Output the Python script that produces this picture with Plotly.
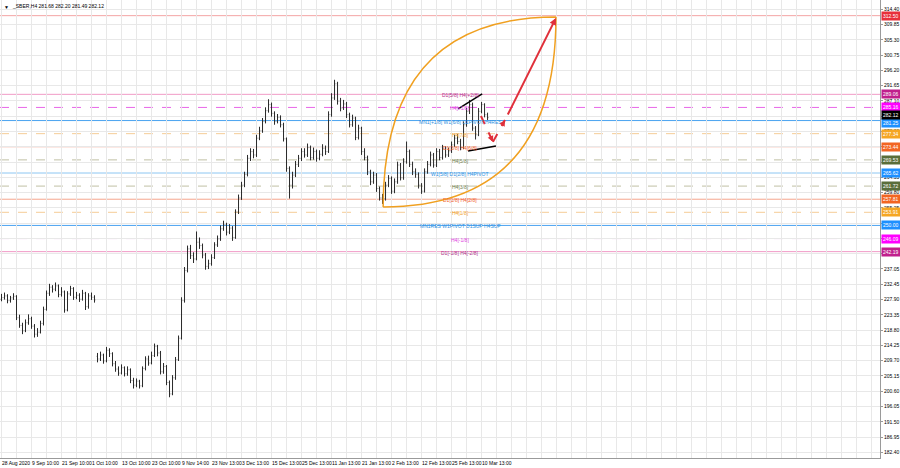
import plotly.graph_objects as go

# ---------------- data ----------------
closes = [228.5, 229.0, 227.6, 228.4, 228.9, 222.5, 220.2, 218.6, 221.0, 222.2,
          220.0, 217.6, 218.2, 220.8, 225.0, 229.8, 231.6, 231.0, 232.0, 229.4,
          230.2, 224.8, 229.6, 231.2, 228.6, 229.2, 228.0, 229.8, 225.8, 229.0,
          228.6, 227.8,
          210.2, 211.4, 209.6, 212.8, 211.8, 208.8, 207.2, 206.0, 207.6, 205.8,
          207.0, 203.8, 202.4, 203.6, 202.2, 207.4, 210.2, 209.0, 211.2, 214.0,
          212.0, 206.4, 208.0, 203.2, 199.8, 204.6, 210.0, 216.4, 227.6,
          236.6, 243.0, 241.0, 240.0, 245.0, 244.0, 241.2, 237.8, 238.6, 240.4,
          244.2, 246.0, 249.0, 250.2, 248.0, 249.2, 246.4, 254.0, 258.2, 262.0,
          265.2, 270.0, 272.0, 271.0, 276.0, 278.2, 281.0, 284.2, 286.0, 283.4,
          281.0, 282.2, 280.0, 275.8, 267.0, 262.0, 265.0, 268.2, 270.0, 272.0,
          271.0, 273.2, 270.2, 272.0, 270.0, 271.2, 273.0, 272.0, 283.0, 288.0,
          292.2, 287.0, 285.0, 286.2, 283.0, 280.0, 282.0, 276.2, 279.0, 272.0,
          270.2, 266.0, 263.0, 265.0, 261.0, 258.2, 258.0, 262.0, 264.0, 260.2,
          263.0, 268.0, 264.2, 269.0, 272.0, 268.2, 266.0, 265.2, 262.0, 260.2,
          266.0, 268.2, 271.0, 268.0, 272.0, 270.2, 273.0, 271.0, 272.2, 274.0,
          276.0, 275.0, 273.2, 280.0, 284.0, 286.0, 279.0, 277.0, 284.0, 286.0,
          283.0, 282.12]
opens = [228.0, 228.5, 229.0, 227.6, 228.4, 228.9, 222.5, 220.2, 218.6, 221.0,
         222.2, 220.0, 217.6, 218.2, 220.8, 225.0, 229.8, 231.6, 231.0, 232.0,
         229.4, 230.2, 224.8, 229.6, 231.2, 228.6, 229.2, 228.0, 229.8, 225.8,
         229.0, 228.6,
         211.0, 210.2, 211.4, 209.6, 212.8, 211.8, 208.8, 207.2, 206.0, 207.6,
         205.8, 207.0, 203.8, 202.4, 203.6, 202.2, 207.4, 210.2, 209.0, 211.2,
         214.0, 212.0, 206.4, 208.0, 203.2, 199.8, 204.6, 210.0, 216.4,
         227.6, 236.6, 243.0, 241.0, 240.0, 245.0, 244.0, 241.2, 237.8, 238.6,
         240.4, 244.2, 246.0, 249.0, 250.2, 248.0, 249.2, 246.4, 254.0, 258.2,
         262.0, 265.2, 270.0, 272.0, 271.0, 276.0, 278.2, 281.0, 284.2, 286.0,
         283.4, 281.0, 282.2, 280.0, 275.8, 267.0, 262.0, 265.0, 268.2, 270.0,
         272.0, 271.0, 273.2, 270.2, 272.0, 270.0, 271.2, 273.0, 272.0, 283.0,
         288.0, 292.2, 287.0, 285.0, 286.2, 283.0, 280.0, 282.0, 276.2, 279.0,
         272.0, 270.2, 266.0, 263.0, 265.0, 261.0, 258.2, 258.0, 262.0, 264.0,
         260.2, 263.0, 268.0, 264.2, 269.0, 272.0, 268.2, 266.0, 265.2, 262.0,
         260.2, 266.0, 268.2, 271.0, 268.0, 272.0, 270.2, 273.0, 271.0, 272.2,
         274.0, 276.0, 275.0, 273.2, 280.0, 284.0, 286.0, 279.0, 277.0, 284.0,
         286.0, 283.0]
highs = [229.6, 230.0, 229.5, 229.0, 229.8, 229.2, 223.4, 221.0, 222.0, 223.5,
         222.8, 220.6, 219.4, 221.6, 225.8, 230.6, 232.6, 232.2, 233.0, 232.4,
         231.6, 230.6, 230.4, 232.0, 231.6, 230.2, 229.8, 230.8, 230.2, 229.8,
         230.0, 229.2,
         212.0, 212.4, 211.8, 213.8, 213.4, 212.2, 209.6, 208.0, 208.6, 208.0,
         208.0, 207.4, 204.6, 204.4, 204.0, 208.0, 211.0, 211.2, 212.4, 214.8,
         214.4, 212.6, 209.0, 208.4, 203.8, 205.4, 210.8, 217.2, 228.6,
         237.6, 244.0, 244.2, 242.0, 248.2, 246.4, 244.6, 241.8, 239.8, 241.4,
         245.0, 247.0, 250.0, 251.4, 250.8, 250.4, 249.8, 254.8, 259.2, 263.0,
         266.0, 271.0, 273.0, 272.8, 277.0, 279.4, 282.0, 285.2, 287.6, 286.6,
         284.0, 283.2, 282.8, 280.6, 276.2, 267.6, 266.0, 269.2, 271.0, 273.0,
         273.0, 274.4, 273.8, 273.2, 272.6, 272.4, 274.2, 273.8, 284.0, 289.4,
         293.4, 292.8, 288.0, 287.4, 286.8, 283.6, 283.0, 282.4, 280.0, 279.4,
         273.0, 270.8, 266.6, 266.0, 265.6, 261.6, 259.4, 263.0, 265.0, 264.6,
         264.0, 269.0, 268.6, 270.0, 275.0, 272.6, 269.0, 267.0, 265.8, 262.6,
         267.0, 269.2, 272.0, 271.6, 273.0, 272.8, 274.0, 273.6, 273.2, 275.0,
         277.0, 277.2, 275.8, 281.0, 285.0, 287.4, 286.6, 279.6, 285.0, 286.8,
         286.4, 283.6]
lows = [227.4, 227.9, 226.8, 227.0, 227.8, 221.8, 219.5, 217.6, 218.2, 220.4,
        219.2, 216.6, 216.8, 217.8, 220.2, 224.6, 229.0, 230.0, 230.4, 228.6,
        228.8, 224.0, 224.4, 229.0, 227.8, 228.0, 227.2, 227.6, 224.8, 225.2,
        227.8, 227.0,
        209.2, 209.6, 208.8, 209.2, 210.8, 208.0, 206.4, 205.2, 205.6, 205.0,
        205.2, 203.0, 201.4, 201.8, 201.4, 201.8, 206.8, 208.2, 208.6, 210.8,
        211.0, 205.6, 205.8, 202.4, 198.8, 199.4, 204.0, 209.6, 216.0,
        227.0, 236.0, 240.0, 238.8, 239.6, 243.0, 240.2, 236.8, 237.0, 238.0,
        240.0, 243.6, 245.4, 248.4, 247.0, 247.4, 245.4, 246.0, 253.4, 257.6,
        261.4, 264.6, 269.2, 270.0, 270.4, 275.4, 277.6, 280.4, 283.6, 282.4,
        280.0, 280.4, 279.2, 275.0, 266.0, 258.0, 261.0, 264.4, 267.4, 269.2,
        270.2, 270.4, 269.4, 269.6, 269.0, 269.4, 270.6, 271.0, 271.6, 282.4,
        287.4, 286.0, 284.0, 284.4, 282.0, 279.2, 279.4, 275.4, 275.6, 271.0,
        269.4, 265.0, 262.0, 262.4, 260.0, 257.4, 256.4, 257.4, 261.4, 259.4,
        259.6, 262.4, 263.4, 263.6, 268.4, 267.4, 265.0, 264.2, 261.0, 259.4,
        259.8, 265.4, 267.6, 267.2, 267.4, 269.4, 269.6, 270.2, 270.4, 271.6,
        273.4, 274.2, 272.4, 272.8, 279.4, 283.2, 278.2, 275.6, 276.6, 283.4,
        282.2, 281.4]

date_labels = ["28 Aug 2020", "9 Sep 10:00", "21 Sep 10:00", "1 Oct 10:00",
               "13 Oct 10:00", "23 Oct 10:00", "9 Nov 14:00", "23 Nov 13:00",
               "3 Dec 13:00", "15 Dec 13:00", "25 Dec 13:00", "11 Jan 13:00",
               "21 Jan 13:00", "2 Feb 13:00", "12 Feb 13:00", "25 Feb 13:00",
               "10 Mar 13:00"]
date_label_bars = [0, 10, 20, 30, 40, 50, 60, 70, 80, 90, 100, 110, 120, 130,
                   140, 150, 160]

price_ticks = [314.40, 309.85, 305.30, 300.75, 296.20, 291.65, 287.10, 282.55,
               278.00, 273.45, 268.90, 264.35, 259.80, 255.25, 250.70, 246.15,
               241.60, 237.05, 232.45, 227.90, 223.35, 218.80, 214.25, 209.70,
               205.15, 200.60, 196.05, 191.50, 186.95, 182.40]

level_prices = [312.50, 289.06, 285.16, 281.25, 277.34, 273.44, 269.53, 265.62,
                261.72, 257.81, 253.91, 250.00, 246.09, 242.19]
level_texts = ["", "D1[5/8] H4[+2/8]", "H4[+1/8]",
               "MN1[+1/8] W1[6/8] D1PIVOT H4RES", "H4[7/8]", "D1[3/8] H4[6/8]",
               "H4[5/8]", "W1[5/8] D1[2/8] H4PIVOT", "H4[3/8]", "D1[1/8] H4[2/8]",
               "H4[1/8]", "MN1RES W1PIVOT D1SUP H4SUP", "H4[-1/8]",
               "D1[-1/8] H4[-2/8]"]
level_line_colors = ["#f4a4a4", "#f19ac6", "#e866e8", "#4aa3f0", "#f5cc96",
                     "#f5a58e", "#c0c0a4", "#8cc6f2", "#c0c0a4", "#f5a58e",
                     "#f5cc96", "#4aa3f0", "#e866e8", "#f19ac6"]
level_dash = ["solid", "solid", "dash", "solid", "dash", "solid", "dash", "solid",
              "dash", "solid", "dash", "solid", "dash", "solid"]
level_text_colors = ["#e03030", "#b0308a", "#e040e0", "#3090e0", "#f0a030",
                     "#f06030", "#708050", "#3090e0", "#708050", "#f06030",
                     "#f0a030", "#3090e0", "#e040e0", "#b0308a"]
level_label_bg = ["#e8303a", "#c0208c", "#ff00ff", "#1e90ff", "#f5a623",
                  "#f26522", "#5a6e3a", "#1e90ff", "#5a6e3a", "#f26522",
                  "#f5a623", "#1e90ff", "#ff00ff", "#c0208c"]

current_price = 282.12
title_text = "_SBER,H4 281.68 282.20 281.49 282.12"

# drawings (bar index, price)
lens_start = (127.2, 255.5)
lens_end = (184.8, 312.1)
trend_upper = [(152.2, 284.7), (160.2, 289.2)]
trend_lower = [(155.5, 272.2), (164.8, 273.7)]
red_dash_path = [(159.8, 282.6), (163.8, 274.9), (167.8, 281.4)]
red_solid = [(168.5, 282.6), (184.8, 311.8)]

# ---------------- figure ----------------
bars = list(range(len(closes)))
FONT = "Liberation Sans"

fig = go.Figure()
fig.add_trace(go.Ohlc(
    x=bars, open=opens, high=highs, low=lows, close=closes,
    increasing=dict(line=dict(color="#2a2a2a", width=1)),
    decreasing=dict(line=dict(color="#2a2a2a", width=1)),
    tickwidth=0.25, hoverinfo="skip", showlegend=False))

shapes = []
annotations = []

for p, t, lc, dsh, tc, bg in zip(level_prices, level_texts, level_line_colors,
                                  level_dash, level_text_colors, level_label_bg):
    shapes.append(dict(type="line", xref="paper", yref="y", x0=0, x1=1, y0=p, y1=p,
                       line=dict(color=lc, width=1, dash=dsh), layer="below"))
    if t:
        annotations.append(dict(xref="paper", yref="y", x=0.523, y=p, text=t,
                                showarrow=False, xanchor="center", yanchor="middle",
                                yshift=-1,
                                font=dict(family=FONT, size=5, color=tc)))
    ys = -2 if abs(p - 281.25) < 0.01 else 0
    annotations.append(dict(xref="paper", yref="y", x=1, y=p, text="%.2f" % p,
                            showarrow=False, xanchor="left", yanchor="middle",
                            xshift=1, yshift=ys, bgcolor=bg, borderpad=1,
                            font=dict(family=FONT, size=5, color="#ffffff")))

annotations.append(dict(xref="paper", yref="y", x=1, y=current_price,
                        text="%.2f" % current_price, showarrow=False,
                        xanchor="left", yanchor="middle", xshift=1, yshift=3,
                        bgcolor="#000000", borderpad=1,
                        font=dict(family=FONT, size=5, color="#ffffff")))

# lens
(x0, y0), (x1, y1) = lens_start, lens_end
lens_path = (f"M {x0},{y0} Q {x0},{y1} {x1},{y1} "
             f"M {x0},{y0} Q {x1},{y0} {x1},{y1}")
shapes.append(dict(type="path", xref="x", yref="y", path=lens_path,
                   line=dict(color="#f0a020", width=1.5)))

for seg in (trend_upper, trend_lower):
    shapes.append(dict(type="line", xref="x", yref="y",
                       x0=seg[0][0], y0=seg[0][1], x1=seg[1][0], y1=seg[1][1],
                       line=dict(color="#000000", width=1.5)))

for a, b in zip(red_dash_path[:-1], red_dash_path[1:]):
    shapes.append(dict(type="line", xref="x", yref="y",
                       x0=a[0], y0=a[1], x1=b[0], y1=b[1],
                       line=dict(color="#e0303a", width=2, dash="dash")))
    annotations.append(dict(xref="x", yref="y", axref="x", ayref="y",
                            x=b[0], y=b[1],
                            ax=b[0] - (b[0] - a[0]) * 0.25,
                            ay=b[1] - (b[1] - a[1]) * 0.25,
                            text="", showarrow=True, arrowhead=2, arrowsize=0.6,
                            arrowwidth=2, arrowcolor="#e0303a"))

annotations.append(dict(xref="x", yref="y", axref="x", ayref="y",
                        x=red_solid[1][0], y=red_solid[1][1],
                        ax=red_solid[0][0], ay=red_solid[0][1],
                        text="", showarrow=True, arrowhead=2, arrowsize=0.7,
                        arrowwidth=2, arrowcolor="#e0303a"))

# title
annotations.append(dict(xref="paper", yref="paper", x=0.002, y=0.995, text="▼",
                        showarrow=False, xanchor="left", yanchor="top",
                        font=dict(family=FONT, size=5, color="#000000")))
annotations.append(dict(xref="paper", yref="paper", x=0.011, y=0.997,
                        text=title_text, showarrow=False, xanchor="left",
                        yanchor="top",
                        font=dict(family=FONT, size=5, color="#000000")))

fig.update_layout(
    width=900, height=468,
    margin=dict(l=0, r=20, t=0, b=10, autoexpand=False),
    paper_bgcolor="#ffffff", plot_bgcolor="#ffffff",
    shapes=shapes, annotations=annotations,
    showlegend=False,
    xaxis=dict(range=[-0.5, 292.8], tickmode="array", tickvals=date_label_bars,
               ticktext=date_labels, ticklabelposition="outside right",
               tickangle=0, automargin=False,
               tickfont=dict(family=FONT, size=5, color="#000000"),
               showgrid=True, gridcolor="#e8e8e8", gridwidth=1,
               minor=dict(tick0=0, dtick=5, showgrid=True, gridcolor="#e8e8e8",
                          gridwidth=1),
               ticks="", showline=True, linecolor="#9a9a9a", mirror=True,
               zeroline=False, rangeslider=dict(visible=False), fixedrange=True),
    yaxis=dict(side="right", range=[180.70, 317.17], tickmode="array",
               tickvals=price_ticks, ticktext=["%.2f" % v for v in price_ticks],
               automargin=False,
               tickfont=dict(family=FONT, size=5, color="#000000"),
               showgrid=True, gridcolor="#e8e8e8", gridwidth=1,
               ticks="outside", ticklen=2, tickcolor="#9a9a9a",
               showline=True, linecolor="#9a9a9a", mirror=True,
               zeroline=False, fixedrange=True),
)

fig.write_html("out.html",
               config={"displayModeBar": False, "staticPlot": True},
               post_script="document.body.style.margin='0';"
                           "document.body.style.padding='0';"
                           "document.body.style.overflow='hidden';")
